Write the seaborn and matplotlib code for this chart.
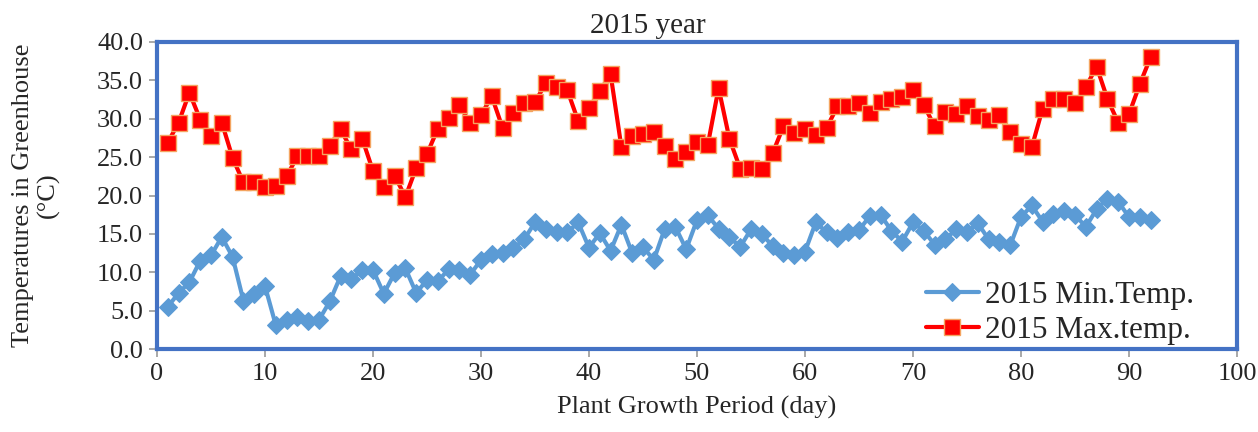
import matplotlib
matplotlib.use("Agg")
import matplotlib.pyplot as plt
import seaborn as sns
import numpy as np
import pandas as pd

days = list(range(1, 93))

min_temp = [5.5, 7.3, 8.7, 11.5, 12.2, 14.6, 12.0, 6.3, 7.2, 8.2,
            3.1, 3.8, 4.2, 3.6, 3.8, 6.2, 9.5, 9.1, 10.3, 10.3,
            7.2, 9.9, 10.5, 7.3, 9.0, 8.8, 10.4, 10.3, 9.7, 11.6,
            12.4, 12.5, 13.1, 14.3, 16.5, 15.6, 15.2, 15.2, 16.5, 13.2,
            15.1, 12.8, 16.2, 12.5, 13.3, 11.6, 15.6, 15.9, 13.0, 16.8,
            17.4, 15.7, 14.6, 13.3, 15.6, 15.0, 13.4, 12.5, 12.2, 12.7,
            16.5, 15.2, 14.4, 15.3, 15.5, 17.3, 17.5, 15.4, 14.0, 16.5,
            15.4, 13.6, 14.3, 15.6, 15.2, 16.4, 14.3, 13.9, 13.5, 17.2,
            18.7, 16.6, 17.6, 18.0, 17.5, 15.9, 18.2, 19.6, 19.2, 17.2,
            17.2, 16.8]

max_temp = [26.9, 29.5, 33.4, 29.9, 27.7, 29.5, 24.9, 21.7, 21.7, 21.1,
            21.2, 22.5, 25.1, 25.1, 25.1, 26.5, 28.6, 26.0, 27.4, 23.2,
            21.1, 22.6, 19.8, 23.6, 25.4, 28.7, 30.1, 31.8, 29.4, 30.5,
            32.9, 28.8, 30.7, 32.0, 32.2, 34.6, 34.2, 33.7, 29.7, 31.4,
            33.6, 35.8, 26.3, 27.8, 28.0, 28.3, 26.4, 24.7, 25.7, 27.0,
            26.6, 34.0, 27.4, 23.5, 23.6, 23.5, 25.5, 29.0, 28.2, 28.6,
            27.9, 28.8, 31.6, 31.6, 32.1, 30.7, 32.2, 32.6, 32.8, 33.7,
            31.8, 29.0, 30.9, 30.6, 31.6, 30.4, 29.8, 30.5, 28.3, 26.7,
            26.3, 31.3, 32.6, 32.6, 32.0, 34.1, 36.8, 32.6, 29.5, 30.6,
            34.5, 38.0]

x_ticks = list(range(0, 101, 10))
y_ticks = [0, 5, 10, 15, 20, 25, 30, 35, 40]

sns.set_style("white")
plt.rcParams['font.family'] = ['Liberation Serif', 'DejaVu Serif']
plt.rcParams['font.size'] = 19

fig = plt.figure(figsize=(12.58, 4.32), dpi=100)
ax = fig.add_axes([0.1248, 0.1921, 0.8585, 0.7107])

df = pd.DataFrame({'day': days, 'min': min_temp, 'max': max_temp})

sns.lineplot(data=df, x='day', y='min', ax=ax, color='#5B9BD5', linewidth=3,
             marker='D', markersize=9.5, markerfacecolor='#5B9BD5',
             markeredgecolor='#5B9BD5', label='2015 Min.Temp.')
sns.lineplot(data=df, x='day', y='max', ax=ax, color='#FF0000', linewidth=3,
             marker='s', markersize=11, markerfacecolor='#FF0000',
             markeredgecolor='#F4A460', markeredgewidth=1,
             label='2015 Max.temp.')

ax.set_xlim(0, 100)
ax.set_ylim(0, 40)
ax.set_xticks(x_ticks)
ax.set_yticks(y_ticks)
ax.set_yticklabels([f"{v:.1f}" for v in y_ticks])
ax.tick_params(axis='both', direction='out', length=6, width=1.2,
               color='#999999', labelsize=19, pad=4)
ax.tick_params(left=True, bottom=True)

for s in ax.spines.values():
    s.set_color('#4472C4')
    s.set_linewidth(3)
    s.set_visible(True)

ax.set_xlabel('Plant Growth Period (day)', fontsize=19, labelpad=8)
ax.set_ylabel('Temperatures in Greenhouse\n(°C)', fontsize=19, labelpad=27,
              linespacing=1.15)
fig.text(0.515, 0.94, '2015 year', ha='center', va='center', fontsize=21)

leg = ax.legend(loc='lower right', bbox_to_anchor=(0.972, -0.027), frameon=False,
                fontsize=22.5, handlelength=1.7, handletextpad=0.2,
                labelspacing=0.2, borderaxespad=0.0)

fig.savefig('out.png', dpi=100)
